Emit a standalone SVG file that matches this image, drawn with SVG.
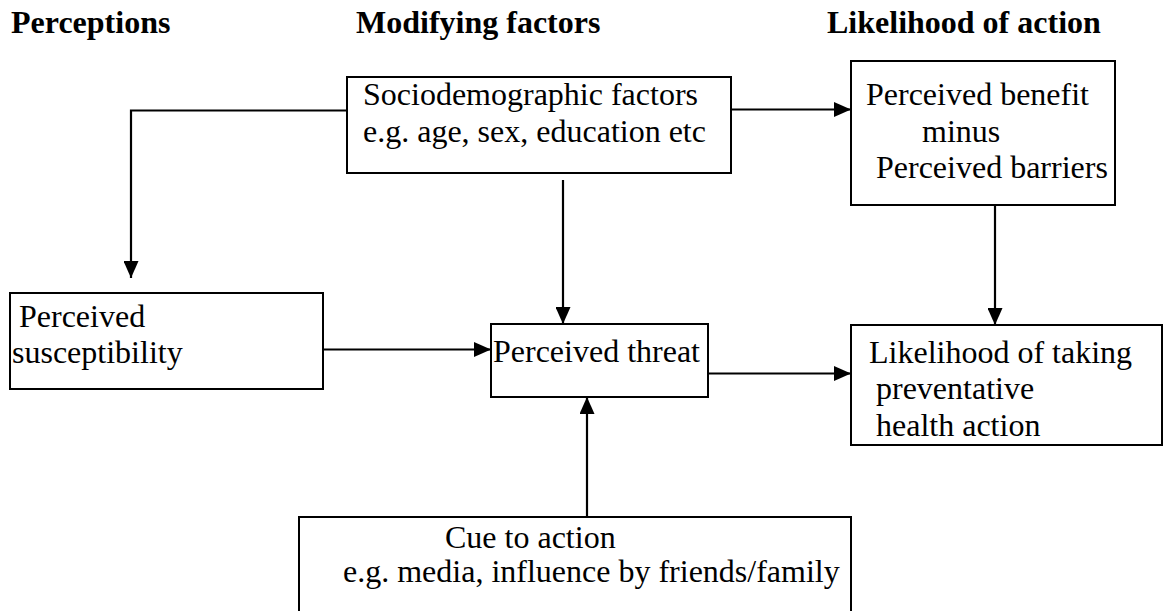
<svg xmlns="http://www.w3.org/2000/svg" width="1163" height="611" viewBox="0 0 1163 611">
<style>
  .box { fill: #ffffff; stroke: #000000; stroke-width: 2; }
  .t { font-family: 'Liberation Serif', 'Times New Roman', Times, serif; font-size: 32px; fill: #000000; }
  .h { font-family: 'Liberation Serif', 'Times New Roman', Times, serif; font-size: 32px; font-weight: bold; fill: #000000; }
  .c { fill: none; stroke: #000000; stroke-width: 2.2; }
</style>
<defs>
  <marker id="arr" markerUnits="userSpaceOnUse" markerWidth="17" markerHeight="15" refX="17" refY="7.5" orient="auto">
    <path d="M0,0 L17,7.5 L0,15 Z" fill="#000000"/>
  </marker>
</defs>
<rect width="1163" height="611" fill="#ffffff"/>
<g id="titles">
  <text class="h" x="11" y="33">Perceptions</text>
  <text class="h" x="356" y="33">Modifying factors</text>
  <text class="h" x="827" y="33">Likelihood of action</text>
</g>
<g id="connectors">
  <path class="c" d="M347,110.5 H131 V278" marker-end="url(#arr)"/>
  <path class="c" d="M563,180 V324" marker-end="url(#arr)"/>
  <path class="c" d="M731,109.5 H851" marker-end="url(#arr)"/>
  <path class="c" d="M323,349.5 H491" marker-end="url(#arr)"/>
  <path class="c" d="M708,373.5 H851" marker-end="url(#arr)"/>
  <path class="c" d="M995,205 V325" marker-end="url(#arr)"/>
  <path class="c" d="M587,517 V397" marker-end="url(#arr)"/>
</g>
<g id="sociodemographic">
  <rect class="box" x="347" y="77" width="384" height="96"/>
  <text class="t" x="363" y="105">Sociodemographic factors</text>
  <text class="t" x="363" y="142">e.g. age, sex, education etc</text>
</g>
<g id="benefit">
  <rect class="box" x="851" y="61" width="264" height="144"/>
  <text class="t" x="866" y="105">Perceived benefit</text>
  <text class="t" x="922" y="142">minus</text>
  <text class="t" x="876" y="178">Perceived barriers</text>
</g>
<g id="susceptibility">
  <rect class="box" x="10" y="293" width="313" height="96"/>
  <text class="t" x="19" y="327">Perceived</text>
  <text class="t" x="12" y="363">susceptibility</text>
</g>
<g id="threat">
  <rect class="box" x="491" y="324" width="217" height="73"/>
  <text class="t" x="493" y="362">Perceived threat</text>
</g>
<g id="likelihood">
  <rect class="box" x="851" y="325" width="311" height="120"/>
  <text class="t" x="869" y="363">Likelihood of taking</text>
  <text class="t" x="876" y="399">preventative</text>
  <text class="t" x="876" y="436">health action</text>
</g>
<g id="cue">
  <rect class="box" x="299" y="517" width="552" height="110"/>
  <text class="t" x="445" y="548">Cue to action</text>
  <text class="t" x="343" y="582">e.g. media, influence by friends/family</text>
</g>
</svg>
